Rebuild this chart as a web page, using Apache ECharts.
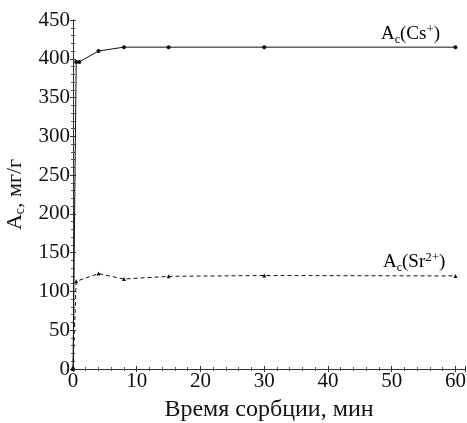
<!DOCTYPE html>
<html lang="ru">
<head>
  <meta charset="UTF-8">
  <title>Сорбция Cs и Sr</title>
  <script src="https://cdn.jsdelivr.net/npm/echarts@6/dist/echarts.min.js"></script>
  <style>
    body { margin: 0; background: #ffffff; }
    #chart { width: 467px; height: 423px; }
  </style>
</head>
<body>
  <div id="chart"></div>
  <script>
    // время сорбции, мин
    const timeCs = [0, 0.5, 1, 4, 8, 15, 30, 60];
    const valuesCs = [0, 396, 396, 410, 415, 415, 415, 415];
    const timeSr = [0, 0.5, 4, 8, 15, 30, 60];
    const valuesSr = [0, 113, 123, 116, 119.5, 120.5, 120];
    const xTicks = [0, 10, 20, 30, 40, 50, 60];

    const chart = echarts.init(document.getElementById('chart'));
    const font = 'Liberation Serif';
    const black = '#111';

    function pairs(xs, ys) {
      return xs.map((x, i) => [x, ys[i]]);
    }

    const frameAxis = {
      axisLine: { show: true, lineStyle: { color: '#333', width: 1 } },
      axisTick: { show: true, inside: true, length: 3, lineStyle: { color: '#333' } },
      minorTick: { show: true, splitNumber: 5, length: 2, lineStyle: { color: '#555' } },
      splitLine: { show: false }
    };

    function richStyle(size) {
      return {
        a: { fontFamily: font, fontSize: size, color: black },
        sub: { fontFamily: font, fontSize: Math.round(size * 0.65), color: black, padding: [10, 0, 0, 0] },
        sup: { fontFamily: font, fontSize: Math.round(size * 0.7), color: black, padding: [0, 0, 10, 0] }
      };
    }

    chart.setOption({
      backgroundColor: '#ffffff',
      animation: false,
      grid: { left: 73, right: 2, top: 20, bottom: 54, containLabel: false, outerBoundsMode: 'none' },
      xAxis: [
        Object.assign({}, frameAxis, {
          type: 'value', min: 0, max: 61.5, interval: 10, position: 'bottom',
          name: 'Время сорбции, мин', nameLocation: 'middle', nameGap: 29,
          nameTextStyle: { fontFamily: font, fontSize: 24, color: black },
          axisLabel: {
            fontFamily: font, fontSize: 21, color: black, margin: 2,
            showMaxLabel: false,
            formatter: v => xTicks.includes(v) ? String(v) : ''
          }
        }),
        Object.assign({}, frameAxis, {
          type: 'value', min: 0, max: 61.5, interval: 10, position: 'top',
          axisLabel: { show: false }
        })
      ],
      yAxis: [
        Object.assign({}, frameAxis, {
          type: 'value', min: 0, max: 450, interval: 50, position: 'left',
          name: '{a|A}{sub|c}{a|, мг/г}', nameLocation: 'middle', nameGap: 44,
          nameTextStyle: { rich: richStyle(22) },
          axisLabel: { fontFamily: font, fontSize: 21, color: black, margin: 3 }
        }),
        Object.assign({}, frameAxis, {
          type: 'value', min: 0, max: 450, interval: 50, position: 'right',
          axisLine: { show: false },
          axisLabel: { show: false }
        })
      ],
      graphic: [
        {
          type: 'text', left: 381, top: 23,
          style: { text: '{a|A}{sub|c}{a|(Cs}{sup|+}{a|)}', rich: richStyle(19) }
        },
        {
          type: 'text', left: 383, top: 251,
          style: { text: '{a|A}{sub|c}{a|(Sr}{sup|2+}{a|)}', rich: richStyle(19) }
        }
      ],
      series: [
        {
          name: 'Cs', type: 'line', data: pairs(timeCs, valuesCs),
          symbol: 'circle', symbolSize: 4,
          lineStyle: { color: black, width: 1 },
          itemStyle: { color: black }
        },
        {
          name: 'Sr', type: 'line', data: pairs(timeSr, valuesSr),
          symbol: 'triangle', symbolSize: 4,
          lineStyle: { color: black, width: 1, type: [4, 3] },
          itemStyle: { color: black }
        }
      ]
    });
  </script>
</body>
</html>
